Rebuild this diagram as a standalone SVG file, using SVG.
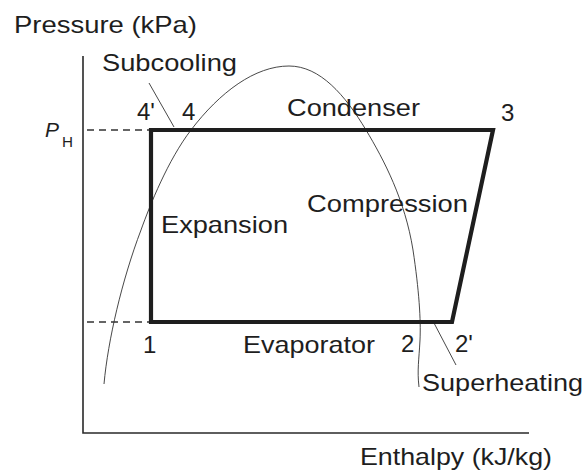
<svg xmlns="http://www.w3.org/2000/svg" width="588" height="470" viewBox="0 0 588 470">
<style>
text{font-family:"Liberation Sans",Arial,sans-serif;font-size:24px;fill:#1e1e1e}
.ax{stroke:#2a2a2a;stroke-width:1.6;fill:none}
.dash{stroke:#333;stroke-width:1.3;stroke-dasharray:7,5;fill:none}
.thin{stroke:#333;stroke-width:0.9;fill:none}
.cyc{stroke:#1e1e1e;stroke-width:4.2;fill:none;stroke-linejoin:miter}
</style>
<rect width="588" height="470" fill="#fff"/>
<g id="axes">
<path class="ax" d="M83,56 V433 H529"/>
<text x="14" y="33" textLength="183" lengthAdjust="spacingAndGlyphs">Pressure (kPa)</text>
<text x="360" y="465" textLength="192" lengthAdjust="spacingAndGlyphs">Enthalpy (kJ/kg)</text>
<text x="45" y="137" font-style="italic" style="font-size:21px" textLength="14" lengthAdjust="spacingAndGlyphs">P</text>
<text x="62" y="147" style="font-size:14px" textLength="11" lengthAdjust="spacingAndGlyphs">H</text>
</g>
<g id="connectors">
<path class="dash" d="M87,130 H150"/>
<path class="dash" d="M87,322 H150"/>
<path id="dome" class="thin" d="M104,384 C108,340 122,280 141,230 C150,205 168,160 191,130 C220,92 255,66 289,66 C320,66 345,95 366,130 C384,160 405,200 413,250 C419,290 421,320 420,340 C419,360 417,370 419,387"/>
<path class="thin" d="M149,83 L174,127"/>
<path class="thin" d="M434,323 L456,365"/>
</g>
<g id="cycle">
<path class="cyc" d="M151,130 H493 L452,322 H151 Z"/>
</g>
<g id="labels">
<text x="102" y="71" textLength="135" lengthAdjust="spacingAndGlyphs">Subcooling</text>
<text x="137" y="120">4'</text>
<text x="182" y="120">4</text>
<text x="287" y="116" textLength="133" lengthAdjust="spacingAndGlyphs">Condenser</text>
<text x="501" y="121">3</text>
<text x="307" y="212" textLength="161" lengthAdjust="spacingAndGlyphs">Compression</text>
<text x="161" y="233" textLength="127" lengthAdjust="spacingAndGlyphs">Expansion</text>
<text x="143" y="353">1</text>
<text x="243" y="353" textLength="132" lengthAdjust="spacingAndGlyphs">Evaporator</text>
<text x="401" y="352">2</text>
<text x="455" y="352">2'</text>
<text x="422" y="391" textLength="161" lengthAdjust="spacingAndGlyphs">Superheating</text>
</g>
</svg>
